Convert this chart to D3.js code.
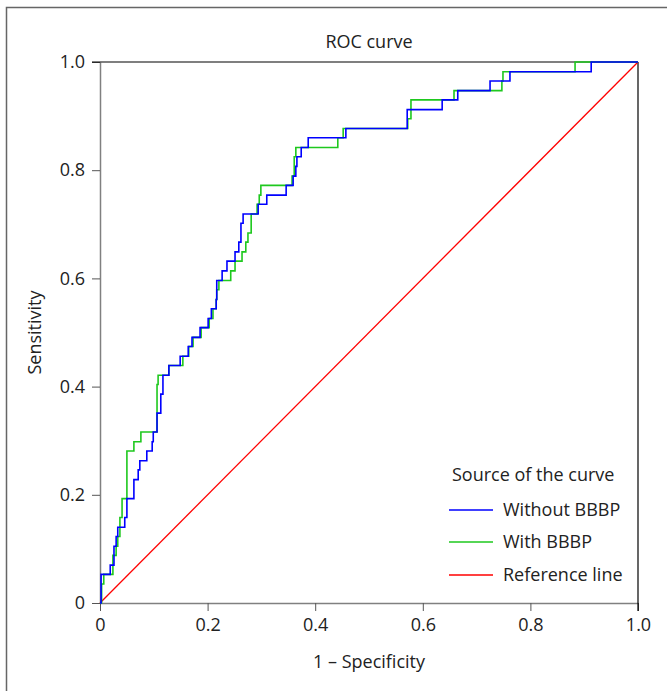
<!DOCTYPE html>
<html>
<head>
<meta charset="utf-8">
<script src="https://cdn.jsdelivr.net/npm/d3@7"></script>
<style>
  body { margin: 0; background: #fff; }
  text { font-family: "Open Sans", "Noto Sans", sans-serif; fill: #222; }
</style>
</head>
<body>
<script>
// ROC points (1 - specificity, sensitivity)
var withoutFpr = [0, 0.002, 0.019, 0.026, 0.030, 0.033, 0.046, 0.050, 0.063, 0.071, 0.074, 0.087, 0.097, 0.099, 0.106, 0.113, 0.117, 0.128, 0.149, 0.164, 0.171, 0.186, 0.201, 0.207, 0.216, 0.217, 0.227, 0.236, 0.251, 0.258, 0.262, 0.266, 0.294, 0.310, 0.346, 0.359, 0.364, 0.366, 0.374, 0.387, 0.457, 0.571, 0.636, 0.665, 0.725, 0.762, 0.913, 1];
var withoutTpr = [0, 0.053, 0.070, 0.105, 0.123, 0.140, 0.158, 0.193, 0.228, 0.246, 0.263, 0.281, 0.298, 0.316, 0.351, 0.386, 0.421, 0.439, 0.456, 0.474, 0.491, 0.509, 0.526, 0.544, 0.561, 0.596, 0.614, 0.632, 0.649, 0.667, 0.702, 0.719, 0.737, 0.754, 0.772, 0.789, 0.807, 0.825, 0.842, 0.860, 0.877, 0.912, 0.930, 0.947, 0.965, 0.982, 1, 1];

var withFpr = [0, 0.003, 0.007, 0.024, 0.030, 0.033, 0.037, 0.041, 0.050, 0.063, 0.076, 0.106, 0.108, 0.128, 0.154, 0.165, 0.173, 0.188, 0.203, 0.210, 0.216, 0.217, 0.221, 0.243, 0.251, 0.264, 0.271, 0.275, 0.281, 0.292, 0.296, 0.299, 0.357, 0.361, 0.364, 0.442, 0.452, 0.572, 0.578, 0.658, 0.747, 0.749, 0.883, 1];
var withTpr = [0, 0.035, 0.053, 0.088, 0.105, 0.123, 0.158, 0.193, 0.281, 0.298, 0.316, 0.404, 0.421, 0.439, 0.456, 0.474, 0.491, 0.509, 0.526, 0.544, 0.561, 0.579, 0.596, 0.614, 0.632, 0.649, 0.667, 0.684, 0.719, 0.737, 0.754, 0.772, 0.789, 0.825, 0.842, 0.860, 0.877, 0.895, 0.930, 0.947, 0.965, 0.982, 1, 1];

var refX = [0, 1];
var refY = [0, 1];

var ticks = [0, 0.2, 0.4, 0.6, 0.8, 1.0];
var tickLabels = ["0", "0.2", "0.4", "0.6", "0.8", "1.0"];

var seriesNames = ["Without BBBP", "With BBBP", "Reference line"];
var seriesColors = ["#0000ff", "#1ec81e", "#ff0000"];

var width = 667;
var height = 691;
var margin = { left: 100, right: 29, top: 62, bottom: 88 };
var fontSize = "18px";

const svg = d3.select("body").append("svg")
    .attr("width", width)
    .attr("height", height);

// outer frame (runs off the right and bottom edges)
svg.append("path")
    .attr("d", "M6.5,700V7.5H700")
    .attr("fill", "none")
    .attr("stroke", "#666")
    .attr("stroke-width", 1.5);

var xScale = d3.scaleLinear([0, 1], [margin.left, width - margin.right]);
var yScale = d3.scaleLinear([0, 1], [height - margin.bottom, margin.top]);

var xAxis = d3.axisBottom(xScale)
    .tickValues(ticks)
    .tickFormat((d, i) => tickLabels[i])
    .tickSize(8)
    .tickSizeOuter(0);
var yAxis = d3.axisLeft(yScale)
    .tickValues(ticks)
    .tickFormat((d, i) => tickLabels[i])
    .tickSize(8)
    .tickSizeOuter(0);

var gx = svg.append("g")
    .attr("transform", `translate(0, ${height - margin.bottom})`)
    .call(xAxis);
var gy = svg.append("g")
    .attr("transform", `translate(${margin.left}, 0)`)
    .call(yAxis);

[gx, gy].forEach(g => {
    g.select(".domain").attr("stroke", "#808080").attr("stroke-width", 1.5);
    g.selectAll(".tick line").attr("stroke", "#555");
    g.selectAll(".tick text")
        .style("font-size", fontSize)
        .style("font-family", "'Open Sans', sans-serif")
        .attr("fill", "#222");
});
gx.selectAll(".tick text").attr("y", 14).attr("dy", "0.8em");
gy.selectAll(".tick text").attr("x", -15);

// top and right frame of the plot
svg.append("line")
    .attr("x1", margin.left - 8).attr("x2", xScale(1))
    .attr("y1", yScale(1)).attr("y2", yScale(1))
    .attr("stroke", "#000").attr("stroke-width", 1.2);
svg.append("line")
    .attr("x1", xScale(1)).attr("x2", xScale(1))
    .attr("y1", yScale(1)).attr("y2", yScale(0) + 8)
    .attr("stroke", "#000").attr("stroke-width", 1.2);

// reference line
var line = d3.line().x(d => xScale(d[0])).y(d => yScale(d[1]));
svg.append("path")
    .datum(d3.zip(refX, refY))
    .attr("d", line)
    .attr("fill", "none")
    .attr("stroke", seriesColors[2])
    .attr("stroke-width", 1.3);

// step curves
var stepLine = d3.line()
    .x(d => xScale(d[0]))
    .y(d => yScale(d[1]))
    .curve(d3.curveStepAfter);

svg.append("path")
    .datum(d3.zip(withFpr, withTpr))
    .attr("d", stepLine)
    .attr("fill", "none")
    .attr("stroke", seriesColors[1])
    .attr("stroke-width", 1.6);

svg.append("path")
    .datum(d3.zip(withoutFpr, withoutTpr))
    .attr("d", stepLine)
    .attr("fill", "none")
    .attr("stroke", seriesColors[0])
    .attr("stroke-width", 1.6);

// titles
svg.append("text")
    .attr("x", (xScale(0) + xScale(1)) / 2)
    .attr("y", 48)
    .attr("text-anchor", "middle")
    .style("font-size", fontSize)
    .text("ROC curve");

svg.append("text")
    .attr("x", (xScale(0) + xScale(1)) / 2)
    .attr("y", 668)
    .attr("text-anchor", "middle")
    .style("font-size", fontSize)
    .text("1 – Specificity");

svg.append("text")
    .attr("transform", `translate(41, ${(yScale(0) + yScale(1)) / 2}) rotate(-90)`)
    .attr("text-anchor", "middle")
    .style("font-size", fontSize)
    .text("Sensitivity");

// legend
var legend = svg.append("g").attr("transform", "translate(449, 0)");
legend.append("text")
    .attr("x", 3)
    .attr("y", 481)
    .style("font-size", fontSize)
    .text("Source of the curve");

var legendY = [510, 542, 575];
seriesNames.forEach((name, i) => {
    legend.append("line")
        .attr("x1", 0).attr("x2", 44)
        .attr("y1", legendY[i]).attr("y2", legendY[i])
        .attr("stroke", seriesColors[i])
        .attr("stroke-width", 1.3);
    legend.append("text")
        .attr("x", 54)
        .attr("y", legendY[i])
        .attr("dy", "0.35em")
        .style("font-size", fontSize)
        .text(name);
});
</script>
</body>
</html>
